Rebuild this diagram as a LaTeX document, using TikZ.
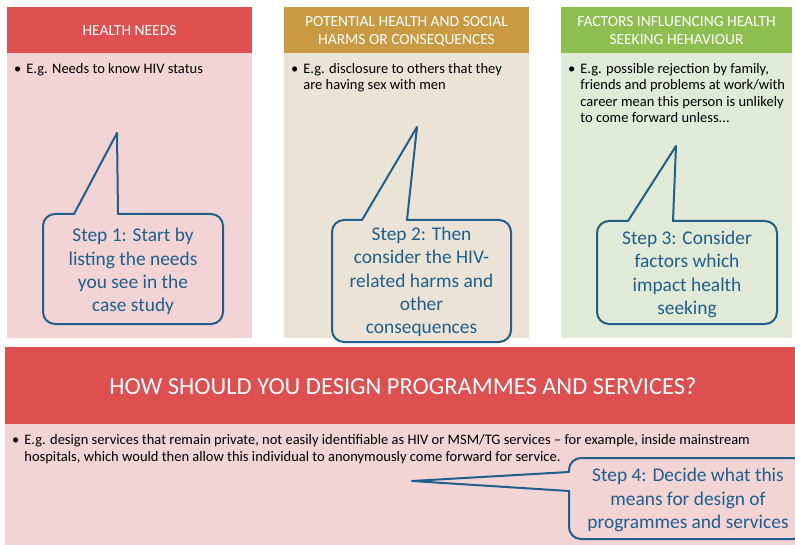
\documentclass[tikz,border=0pt]{standalone}
\usepackage{fontspec}
\setmainfont{Carlito}
\definecolor{hred}{HTML}{DE4F4F}
\definecolor{bgred}{HTML}{F2D4D5}
\definecolor{hgold}{HTML}{C99A42}
\definecolor{bggold}{HTML}{EBE3D6}
\definecolor{hgreen}{HTML}{8DBE50}
\definecolor{bggreen}{HTML}{E0EAD6}
\definecolor{cblue}{HTML}{1F5F8B}
\newcommand\bulitem[1]{\begin{tabular}[t]{@{}l@{\hspace{5pt}}l@{}}\textbullet & #1\end{tabular}}
\begin{document}
\begin{tikzpicture}[x=1pt,y=-1pt,
  headtxt/.style={text=white,font=\fontsize{15.5}{18}\selectfont,align=center,inner sep=0pt},
  bigtxt/.style={text=white,font=\fontsize{24.5}{28}\selectfont,align=center,inner sep=0pt},
  bodytxt/.style={text=black,font=\fontsize{14.5}{16.5}\selectfont,anchor=base west,inner sep=0pt},
  steptxt/.style={text=cblue,font=\fontsize{19.4}{23.3}\selectfont,align=center,inner sep=0pt},
  callout/.style={draw=cblue,line width=2pt,line join=round}]
\useasboundingbox (0,0) rectangle (795,545);
\fill[white] (0,0) rectangle (795,545);
% column 1
\fill[hred] (7,7) rectangle (252,53);
\fill[bgred] (7,53) rectangle (252,338);
\node[headtxt] (h1) at (129.5,30.5) {HEALTH NEEDS};
\node[bodytxt] (b1) at (14,73.5) {\bulitem{E.g. Needs to know HIV status}};
% column 2
\fill[hgold] (284,7) rectangle (529,53);
\fill[bggold] (284,53) rectangle (529,338);
\node[headtxt] (h2) at (406.5,31) {POTENTIAL HEALTH AND SOCIAL\\HARMS OR CONSEQUENCES};
\node[bodytxt] (b2) at (291,73.5) {\bulitem{E.g. disclosure to others that they\\ & are having sex with men}};
% column 3
\fill[hgreen] (561,7) rectangle (792,53);
\fill[bggreen] (561,53) rectangle (792,338);
\node[headtxt] (h3) at (676.5,31) {FACTORS INFLUENCING HEALTH\\SEEKING HEHAVIOUR};
\node[bodytxt] (b3) at (568,73.5) {\bulitem{E.g. possible rejection by family,\\ & friends and problems at work/with\\ & career mean this person is unlikely\\ & to come forward unless...}};
% bottom
\fill[hred] (5,347) rectangle (795,424);
\fill[bgred] (5,424) rectangle (795,545);
\node[bigtxt] (h4) at (403,386) {HOW SHOULD YOU DESIGN PROGRAMMES AND SERVICES?};
\node[bodytxt] (b4) at (12,444.5) {\bulitem{E.g. design services that remain private, not easily identifiable as HIV or MSM/TG services -- for example, inside mainstream\\ & hospitals, which would then allow this individual to anonymously come forward for service.}};
% callouts
\draw[callout,fill=bgred] (118,214) [rounded corners=12pt] -- (223,214) -- (223,324) -- (43,324) -- (43,214) [sharp corners] -- (74,214) -- (117,133) -- cycle;
\node[steptxt] (s1) at (133,271.5) {Step 1: Start by\\listing the needs\\you see in the\\case study};
\draw[callout,fill=bggold] (407,220) [rounded corners=12pt] -- (511,220) -- (511,342) -- (332,342) -- (332,220) [sharp corners] -- (362,220) -- (417,127) -- cycle;
\node[steptxt] (s2) at (421.5,282) {Step 2: Then\\consider the HIV-\\related harms and\\other\\consequences};
\draw[callout,fill=bggreen] (673,221) [rounded corners=12pt] -- (777,221) -- (777,324) -- (597,324) -- (597,221) [sharp corners] -- (628,221) -- (676,146) -- cycle;
\node[steptxt] (s3) at (687,274.5) {Step 3: Consider\\factors which\\impact health\\seeking};
\draw[callout,fill=bgred] (569,491) [rounded corners=12pt] -- (569,539) -- (805,539) -- (805,458) -- (569,458) [sharp corners] -- (569,472) -- (412,481) -- cycle;
\node[steptxt] (s4) at (688,500) {Step 4: Decide what this\\means for design of\\programmes and services};
\end{tikzpicture}
\end{document}
